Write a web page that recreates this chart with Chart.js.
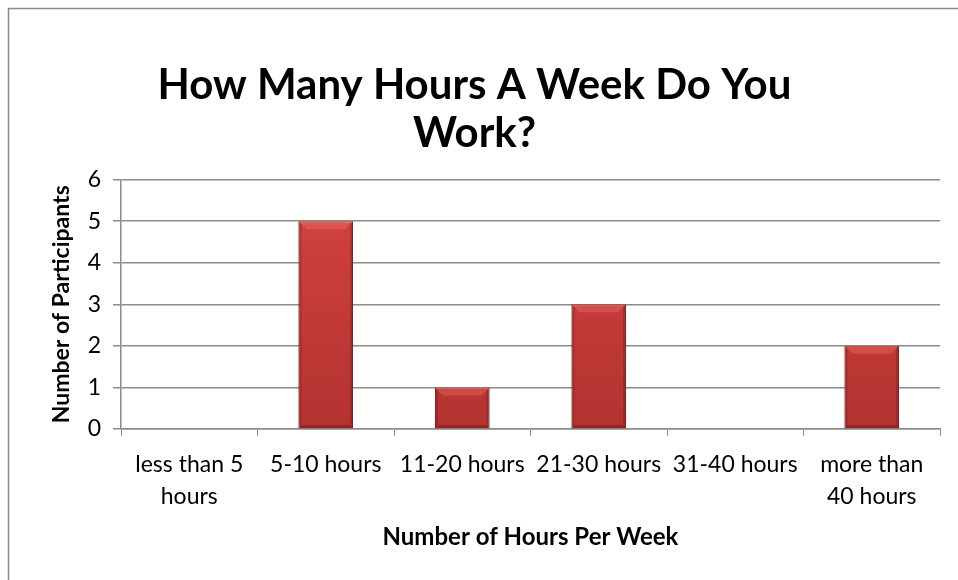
<!DOCTYPE html>
<html>
<head>
<meta charset="utf-8">
<script src="https://cdn.jsdelivr.net/npm/chart.js@4"></script>
<style>
  body { margin: 0; background: #fff; }
  #wrap { width: 958px; height: 580px; }
</style>
</head>
<body>
<div id="wrap"><canvas id="grafica" width="958" height="580"></canvas></div>
<script>
const categorias = [
  ['less than 5', 'hours'],
  '5-10 hours',
  '11-20 hours',
  '21-30 hours',
  '31-40 hours',
  ['more than', '40 hours']
];
const participantes = [0, 5, 1, 3, 0, 2];
const ticksY = [0, 1, 2, 3, 4, 5, 6];

const titulo = ['How Many Hours A Week Do You', 'Work?'];
const tituloX = 'Number of Hours Per Week';
const tituloY = 'Number of Participants';

const fuente = 'Lato, "Open Sans", sans-serif';
const gris = '#8c8c8c';

// marco gris del grafico (solo se ven los bordes izquierdo y superior)
const marco = {
  id: 'marco',
  beforeDraw(chart) {
    const c = chart.ctx;
    c.save();
    c.fillStyle = '#fff';
    c.fillRect(0, 0, chart.width, chart.height);
    c.strokeStyle = '#8a8a8a';
    c.lineWidth = 1.5;
    c.strokeRect(8.5, 8.5, chart.width + 50, chart.height + 50);
    c.restore();
  }
};

// bisel tipo Excel sobre cada barra
const bisel = {
  id: 'bisel',
  afterDatasetsDraw(chart) {
    const c = chart.ctx;
    chart.getDatasetMeta(0).data.forEach(bar => {
      const h = bar.base - bar.y;
      if (h <= 0) return;
      const l = bar.x - bar.width / 2, r = bar.x + bar.width / 2;
      const t = bar.y, b = bar.base;
      const d = Math.min(8, h / 2);
      c.save();
      // arriba, mas claro
      c.fillStyle = 'rgba(255,130,120,0.3)';
      c.beginPath();
      c.moveTo(l, t); c.lineTo(r, t); c.lineTo(r - d, t + d); c.lineTo(l + d, t + d);
      c.closePath(); c.fill();
      // lados, mas oscuros
      c.fillStyle = 'rgba(90,10,10,0.25)';
      c.beginPath();
      c.moveTo(l, t); c.lineTo(l + 3, t + 3); c.lineTo(l + 3, b - 3); c.lineTo(l, b);
      c.closePath(); c.fill();
      c.beginPath();
      c.moveTo(r, t); c.lineTo(r - 3, t + 3); c.lineTo(r - 3, b - 3); c.lineTo(r, b);
      c.closePath(); c.fill();
      // abajo
      c.fillStyle = 'rgba(90,10,10,0.35)';
      c.beginPath();
      c.moveTo(l, b); c.lineTo(r, b); c.lineTo(r - 3, b - 3); c.lineTo(l + 3, b - 3);
      c.closePath(); c.fill();
      c.restore();
    });
  }
};

function colorBarra(context) {
  const chart = context.chart;
  const area = chart.chartArea;
  if (!area) return '#c0403d';
  const g = chart.ctx.createLinearGradient(0, area.top, 0, area.bottom);
  g.addColorStop(0, '#d4433f');
  g.addColorStop(1, '#b33330');
  return g;
}

const ctx = document.getElementById('grafica').getContext('2d');
new Chart(ctx, {
  type: 'bar',
  data: {
    labels: categorias,
    datasets: [{
      label: 'Participants',
      data: participantes,
      backgroundColor: colorBarra,
      borderColor: '#7e2422',
      borderWidth: 1,
      barPercentage: 0.4,
      categoryPercentage: 1
    }]
  },
  plugins: [marco, bisel],
  options: {
    responsive: false,
    animation: false,
    layout: { padding: { left: 9, right: 18, top: 0, bottom: 0 } },
    plugins: {
      legend: { display: false },
      tooltip: { enabled: false },
      title: {
        display: true,
        text: titulo,
        color: '#000',
        font: { family: fuente, size: 42, weight: 'bold', lineHeight: 1.15 },
        padding: { top: 61, bottom: 22 }
      }
    },
    scales: {
      x: {
        afterFit(scale) { scale.height = 151; },
        grid: {
          offset: true,
          drawOnChartArea: false,
          drawTicks: true,
          tickLength: 7,
          color: gris
        },
        border: { display: true, color: gris, width: 1.5 },
        ticks: {
          color: '#000',
          padding: 13,
          maxRotation: 0,
          autoSkip: false,
          font: { family: fuente, size: 23, lineHeight: '32px' }
        },
        title: {
          display: true,
          text: tituloX,
          color: '#000',
          font: { family: fuente, size: 24, weight: 'bold' },
          padding: { top: 0, bottom: 28 }
        }
      },
      y: {
        min: 0,
        max: 6,
        afterFit(scale) { scale.width = 112; },
        afterBuildTicks(scale) { scale.ticks = ticksY.map(v => ({ value: v })); },
        grid: { color: gris, lineWidth: 1.5, tickLength: 8 },
        border: { display: true, color: gris, width: 1.5 },
        ticks: {
          color: '#000',
          padding: 12,
          font: { family: fuente, size: 23 }
        },
        title: {
          display: true,
          text: tituloY,
          color: '#000',
          font: { family: fuente, size: 23, weight: 'bold' },
          padding: { top: 39, bottom: 0 }
        }
      }
    }
  }
});
</script>
</body>
</html>
